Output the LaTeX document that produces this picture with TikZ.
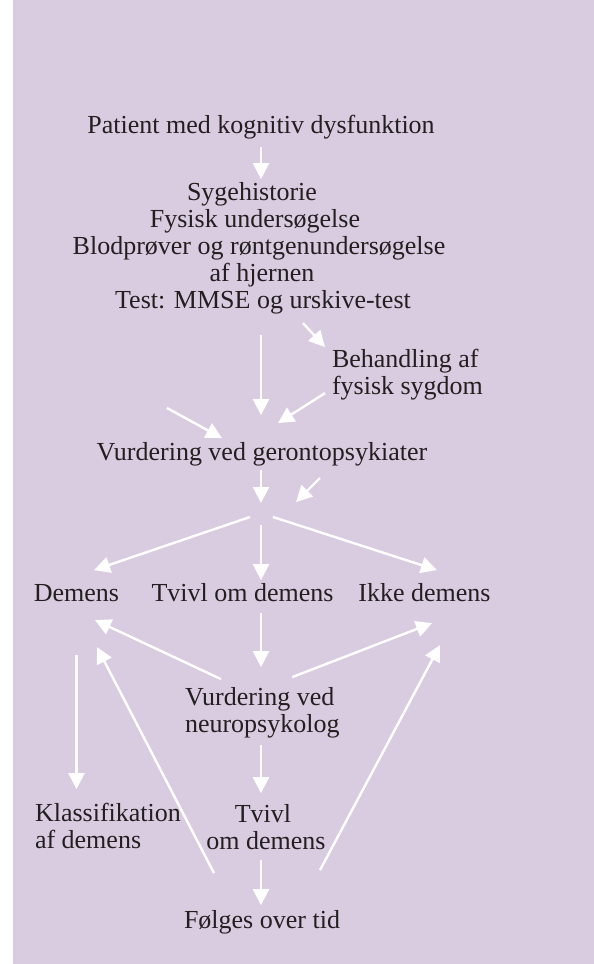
\documentclass[tikz,border=0pt]{standalone}
\usepackage{fontspec}
\setmainfont{Liberation Serif}
\usetikzlibrary{arrows.meta,calc}
\definecolor{bg}{RGB}{217,204,224}
\definecolor{ink}{RGB}{35,31,32}
\newcommand\mlc[1]{\begin{tabular}[t]{@{}c@{}}#1\end{tabular}}
\newcommand\mll[1]{\begin{tabular}[t]{@{}l@{}}#1\end{tabular}}
\begin{document}
\begin{tikzpicture}[x=1pt,y=-1pt,
  lbl/.style={inner sep=0pt,outer sep=0pt,anchor=base,font=\fontsize{26}{27}\selectfont,text=ink},
  lbll/.style={lbl,anchor=base west},
  arr/.style={draw=white,line width=2.4pt,-{Triangle[width=16pt,length=16pt]}}]
\useasboundingbox (0,0) rectangle (594,964);
\fill[bg] (13,0) rectangle (594,964);

\node[lbl] (patient) at (261,133) {\mlc{Patient med kognitiv dysfunktion}};
\node[lbl] (block) at (259,200) {\mlc{Sygehistorie\hspace*{14pt}\\Fysisk undersøgelse\hspace*{8pt}\\Blodprøver og røntgenundersøgelse\\\hspace*{6pt}af hjernen\\\hspace*{8pt}Test: MMSE og urskive-test}};
\node[lbll] (beh) at (332,367) {\mll{Behandling af\\fysisk sygdom}};
\node[lbl] (gero) at (262,460) {\mlc{Vurdering ved gerontopsykiater}};
\coordinate (split) at (261,517);
\node[lbl] (demens) at (76.5,601) {\mlc{Demens}};
\node[lbl] (tvivl) at (242.5,601) {\mlc{Tvivl om demens}};
\node[lbl] (ikke) at (424.5,601) {\mlc{Ikke demens}};
\node[lbll] (neuro) at (185,705) {\mll{Vurdering ved\\neuropsykolog}};
\node[lbll] (klass) at (35,821) {\mll{Klassifikation\\af demens}};
\node[lbl] (tvivlb) at (266,822) {\mlc{Tvivl\hspace*{6pt}\\om demens}};
\node[lbl] (folges) at (262,928) {\mlc{Følges over tid}};
\coordinate (in1) at (167,408);
\coordinate (in2) at (320,478);

% arrows
\draw[arr,shorten <=6pt,shorten >=2pt] (patient.south) -- (patient.south |- block.north);
\draw[arr,shorten <=19pt,shorten >=26pt] (split |- block.south) -- (split |- gero.north);
\draw[arr] ($(block.south)+(44,7)$) -- ($(beh.north west)+(-7,-1)$);
\draw[arr] ($(beh.south west)+(-7,-9)$) -- ($(gero.north)+(16,-18)$);
\draw[arr] (in1) -- ($(gero.north)+(-40,-3)$);
\draw[arr,shorten <=2pt,shorten >=14pt] (split |- gero.south) -- (split);
\draw[arr] (in2) -- ($(split)+(35,-15)$);
\draw[arr] ($(split)+(-11,0)$) -- ($(demens.north)+(17.5,-12)$);
\draw[arr,shorten <=8pt,shorten >=2pt] (split) -- (split |- tvivl.north);
\draw[arr] ($(split)+(12,0)$) -- ($(ikke.north)+(12.5,-12)$);
\draw[arr,shorten <=4pt,shorten >=19pt] (split |- tvivl.south) -- (split |- neuro.north);
\draw[arr] ($(neuro.north west)+(36,-7)$) -- ($(demens.south)+(18.5,11)$);
\draw[arr] ($(neuro.north)+(30,-9)$) -- ($(ikke.south)+(7.5,14)$);
\draw[arr,shorten <=46pt,shorten >=13pt] (demens.south) -- (demens.south |- klass.north);
\draw[arr,shorten <=5pt,shorten >=10pt] (split |- neuro.south) -- (split |- tvivlb.north);
\draw[arr,shorten <=3pt,shorten >=4pt] (split |- tvivlb.south) -- (split |- folges.north);
\draw[arr] ($(folges.north)+(-48,-36)$) -- ($(demens.south)+(20.5,38)$);
\draw[arr] ($(folges.north)+(58,-39)$) -- ($(ikke.south)+(15.5,36)$);
\end{tikzpicture}
\end{document}
